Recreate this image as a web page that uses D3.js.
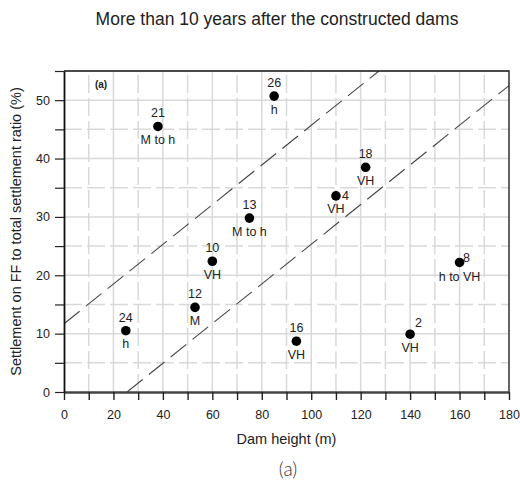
<!DOCTYPE html>
<html>
<head>
<meta charset="utf-8">
<script src="https://cdn.jsdelivr.net/npm/d3@7"></script>
<style>
  body { margin: 0; background: #fff; }
  svg { font-family: "Liberation Sans", Arial, sans-serif; }
</style>
</head>
<body>
<div id="chart"></div>
<script>

// data
var damIds = ["21", "26", "13", "18", "4", "10", "12", "24", "16", "2", "8"];
var damHeight = [38, 85, 75, 122, 110, 60, 53, 25, 94, 140, 160];
var ffRatio = [45.5, 50.7, 29.8, 38.5, 33.6, 22.4, 14.5, 10.5, 8.7, 9.9, 22.2];
var damClass = ["M to h", "h", "M to h", "VH", "VH", "VH", "M", "h", "VH", "VH", "h to VH"];

// dashed boundary lines (end points in data units)
var upperBound = [[0, 11.7], [127.4, 55]];
var lowerBound = [[25.5, 0], [180, 52.5]];

var xTicks = d3.range(0, 181, 10);
var yTicks = d3.range(0, 56, 5);

var width = 520, height = 486;
var margin = {top: 71, right: 11, bottom: 94, left: 64};

var x = d3.scaleLinear()
    .domain([0, 180])
    .range([margin.left, width - margin.right]);

var y = d3.scaleLinear()
    .domain([0, 55])
    .range([height - margin.bottom, margin.top]);

var svg = d3.select("#chart").append("svg")
    .attr("width", width)
    .attr("height", height);

svg.append("rect")
    .attr("width", width)
    .attr("height", height)
    .attr("fill", "#fff");

svg.append("defs").append("clipPath")
    .attr("id", "plot")
  .append("rect")
    .attr("x", x(0))
    .attr("y", y(55))
    .attr("width", x(180) - x(0))
    .attr("height", y(0) - y(55));

// grid: solid on major ticks, dashed on minor ticks
var grid = svg.append("g");

grid.selectAll(".vgrid")
    .data(xTicks.filter(function(d) { return d > 0 && d < 180; }))
  .enter().append("line")
    .attr("x1", function(d) { return x(d); })
    .attr("x2", function(d) { return x(d); })
    .attr("y1", y(0))
    .attr("y2", y(55))
    .attr("stroke", "#d9d9d9")
    .attr("stroke-width", 1.5)
    .attr("stroke-dasharray", function(d) { return d % 20 === 0 ? null : "18,5"; });

grid.selectAll(".hgrid")
    .data(yTicks.filter(function(d) { return d > 0 && d < 55; }))
  .enter().append("line")
    .attr("x1", x(0))
    .attr("x2", x(180))
    .attr("y1", function(d) { return y(d); })
    .attr("y2", function(d) { return y(d); })
    .attr("stroke", "#d9d9d9")
    .attr("stroke-width", 1.5)
    .attr("stroke-dasharray", function(d) { return d % 10 === 0 ? null : "18,5"; });

// boundary lines
var line = d3.line()
    .x(function(d) { return x(d[0]); })
    .y(function(d) { return y(d[1]); });

svg.append("g")
    .attr("clip-path", "url(#plot)")
  .selectAll(".bound")
    .data([upperBound, lowerBound])
  .enter().append("path")
    .attr("d", line)
    .attr("fill", "none")
    .attr("stroke", "#444")
    .attr("stroke-width", 1.1)
    .attr("stroke-dasharray", "20,8");

// frame top and right
svg.append("path")
    .attr("d", "M" + x(0) + "," + y(55) + "H" + x(180) + "V" + y(0))
    .attr("fill", "none")
    .attr("stroke", "#111")
    .attr("stroke-width", 1.3);

// axes
var xAxis = svg.append("g")
    .attr("transform", "translate(0," + y(0) + ")")
    .call(d3.axisBottom(x)
      .tickValues(xTicks)
      .tickSize(8)
      .tickSizeOuter(0)
      .tickPadding(10)
      .tickFormat(function(d) { return d % 20 === 0 ? d : ""; }));

var yAxis = svg.append("g")
    .attr("transform", "translate(" + x(0) + ",0)")
    .call(d3.axisLeft(y)
      .tickValues(yTicks)
      .tickSize(9)
      .tickSizeOuter(0)
      .tickPadding(5)
      .tickFormat(function(d) { return d % 10 === 0 ? d : ""; }));

xAxis.select(".domain").attr("stroke", "#444").attr("stroke-width", 2.4);
yAxis.select(".domain").attr("stroke", "#111").attr("stroke-width", 1.8);
xAxis.selectAll(".tick line").attr("stroke", "#222").attr("stroke-width", 1.4);
yAxis.selectAll(".tick line").attr("stroke", "#222").attr("stroke-width", 1.2);
svg.selectAll(".tick text")
    .attr("font-size", 12.5)
    .attr("font-family", "Liberation Sans, Arial, sans-serif")
    .attr("fill", "#222");

// points
var pts = damIds.map(function(id, i) {
  return {id: id, h: damHeight[i], r: ffRatio[i], cls: damClass[i]};
});

// a few id labels sit to the right of the dot
var idOffset = {"4": [6, 4.5, "start"], "2": [5, -7, "start"], "8": [3.5, 0, "start"]};

var g = svg.selectAll(".dam")
    .data(pts)
  .enter().append("g")
    .attr("transform", function(d) { return "translate(" + x(d.h) + "," + y(d.r) + ")"; });

g.append("circle")
    .attr("r", 4.8)
    .attr("fill", "#000");

g.append("text")
    .attr("x", function(d) { return idOffset[d.id] ? idOffset[d.id][0] : 0; })
    .attr("y", function(d) { return idOffset[d.id] ? idOffset[d.id][1] : -9; })
    .attr("text-anchor", function(d) { return idOffset[d.id] ? idOffset[d.id][2] : "middle"; })
    .attr("font-size", 12.5)
    .attr("fill", "#222")
    .text(function(d) { return d.id; });

g.append("text")
    .attr("y", function(d) { return d.id === "8" ? 19 : 17.5; })
    .attr("text-anchor", "middle")
    .attr("font-size", 12.5)
    .attr("fill", "#222")
    .text(function(d) { return d.cls; });

// panel tag
svg.append("text")
    .attr("x", x(0) + 37)
    .attr("y", y(55) + 17)
    .attr("text-anchor", "middle")
    .attr("font-size", 10)
    .attr("font-weight", "bold")
    .attr("fill", "#222")
    .text("(a)");

// titles
svg.append("text")
    .attr("x", 277)
    .attr("y", 25)
    .attr("text-anchor", "middle")
    .attr("font-size", 17.5)
    .attr("fill", "#222")
    .text("More than 10 years after the constructed dams");

svg.append("text")
    .attr("x", (x(0) + x(180)) / 2)
    .attr("y", 444)
    .attr("text-anchor", "middle")
    .attr("font-size", 14.5)
    .attr("fill", "#222")
    .text("Dam height (m)");

svg.append("text")
    .attr("transform", "translate(21," + (y(0) + y(55)) / 2 + ") rotate(-90)")
    .attr("text-anchor", "middle")
    .attr("font-size", 14.5)
    .attr("fill", "#222")
    .text("Settlement on FF to total settlement ratio (%)");

svg.append("text")
    .attr("x", 288)
    .attr("y", 476)
    .attr("text-anchor", "middle")
    .attr("font-size", 19)
    .attr("font-family", "Lato, 'Liberation Sans', sans-serif")
    .attr("font-weight", 300)
    .attr("fill", "#333")
    .text("(a)");

</script>
</body>
</html>
